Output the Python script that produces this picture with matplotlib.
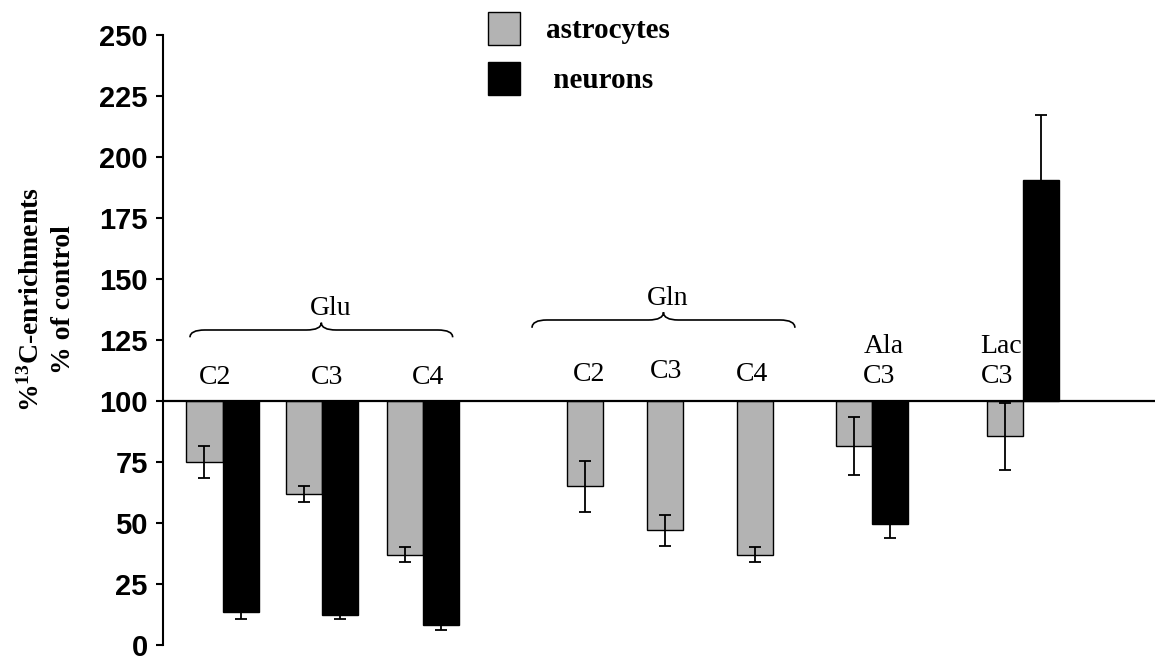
import numpy as np
import matplotlib
matplotlib.use("Agg")
import matplotlib.pyplot as plt
from matplotlib.path import Path
from matplotlib.patches import PathPatch, Patch

plt.rcParams['mathtext.fontset'] = 'custom'
plt.rcParams['mathtext.rm'] = 'Liberation Serif:bold'
plt.rcParams['mathtext.it'] = 'Liberation Serif:bold'
plt.rcParams['mathtext.bf'] = 'Liberation Serif:bold'

# 13C enrichment, % of control (baseline 100)
labels = ['C2', 'C3', 'C4', 'C2', 'C3', 'C4', 'C3', 'C3']
astro = [75, 62, 37, 65, 47, 37, 81.5, 85.5]
astro_err = [6.5, 3.3, 3, 10.3, 6.3, 3, 12, 13.7]
neuro = [13.5, 12.3, 8, np.nan, np.nan, np.nan, 49.5, 190.5]
neuro_err = [3, 1.7, 1.7, np.nan, np.nan, np.nan, 5.7, 26.6]

# category positions along x
xpos = np.array([0.6, 1.6, 2.62, 4.44, 5.24, 6.15, 7.15, 8.67])
w = 0.365

fig = plt.figure(figsize=(11.55, 6.6), dpi=100)
ax = fig.add_axes([163/1155, 15/660, 992/1155, 610/660])

base = 100
xa = xpos - w/2
xn = xpos + w/2
ax.bar(xa, np.array(astro) - base, bottom=base, width=w, color='#b3b3b3',
       edgecolor='black', linewidth=1.0, zorder=2)
ax.bar(xn, np.array(neuro) - base, bottom=base, width=w, color='black',
       edgecolor='black', linewidth=1.0, zorder=2)
ax.errorbar(xa, astro, yerr=astro_err, fmt='none', ecolor='black',
            elinewidth=1.3, capsize=4, capthick=1.3, zorder=3)
ax.errorbar(xn, neuro, yerr=neuro_err, fmt='none', ecolor='black',
            elinewidth=1.3, capsize=4, capthick=1.3, zorder=3)

ax.axhline(base, color='black', linewidth=1.6, zorder=4)

ax.set_xlim(0, 10)
ax.set_ylim(0, 250)
ax.set_yticks(np.arange(0, 251, 25))
ax.set_xticks([])
for s in ['top', 'right', 'bottom']:
    ax.spines[s].set_visible(False)
ax.spines['left'].set_linewidth(1.5)
ax.tick_params(axis='y', direction='out', length=5, width=1.5, pad=6)
for t in ax.get_yticklabels():
    t.set_fontfamily('Liberation Sans')
    t.set_fontweight('bold')
    t.set_fontsize(21)

ax.set_ylabel('%$^{13}$C-enrichments\n% of control', fontfamily='Liberation Serif',
              fontweight='bold', fontsize=20, linespacing=1.3)
ax.yaxis.set_label_coords(-0.088, 0.567)

serif = dict(fontfamily='Liberation Serif', fontsize=20, zorder=1)

# carbon position labels
lab_x = [0.524, 1.653, 2.67, 4.29, 5.07, 5.94]
lab_y = [109.5, 109.5, 109.5, 110.7, 111.9, 110.7]
for lx, ly, s in zip(lab_x, lab_y, labels[:6]):
    ax.text(lx, ly, s, ha='center', va='center', **serif)

ax.text(7.06, 119.7, 'Ala', ha='left', va='baseline', **serif)
ax.text(7.06, 107.4, 'C3', ha='left', va='baseline', **serif)
ax.text(8.24, 119.7, 'Lac', ha='left', va='baseline', **serif)
ax.text(8.24, 107.4, 'C3', ha='left', va='baseline', **serif)

ax.text(1.69, 135.2, 'Glu', ha='center', va='baseline', **serif)
ax.text(5.09, 139.3, 'Gln', ha='center', va='baseline', **serif)


def brace(x0, x1, y, d, r=0.15):
    xm = (x0 + x1) / 2
    verts = [(x0, y - d), (x0, y), (x0 + r, y),
             (xm - r, y),
             (xm, y), (xm, y + d),
             (xm, y), (xm + r, y),
             (x1 - r, y),
             (x1, y), (x1, y - d)]
    codes = [Path.MOVETO, Path.CURVE3, Path.CURVE3,
             Path.LINETO,
             Path.CURVE3, Path.CURVE3,
             Path.CURVE3, Path.CURVE3,
             Path.LINETO,
             Path.CURVE3, Path.CURVE3]
    ax.add_patch(PathPatch(Path(verts, codes), facecolor='none',
                           edgecolor='black', linewidth=1.2))


brace(0.272, 2.92, 129.1, 3.0)
brace(3.72, 6.37, 133.2, 3.2)

handles = [Patch(facecolor='#b3b3b3', edgecolor='black', linewidth=1.0),
           Patch(facecolor='black', edgecolor='black')]
fig.legend(handles, ['astrocytes', ' neurons'], loc='upper left',
           bbox_to_anchor=(488/1155, 1 - 12/660), frameon=False,
           borderpad=0, borderaxespad=0, handlelength=1.1, handleheight=1.35,
           handletextpad=0.9, labelspacing=0.6,
           prop=dict(family='Liberation Serif', weight='bold', size=21))

fig.savefig('out.png', dpi=100)
